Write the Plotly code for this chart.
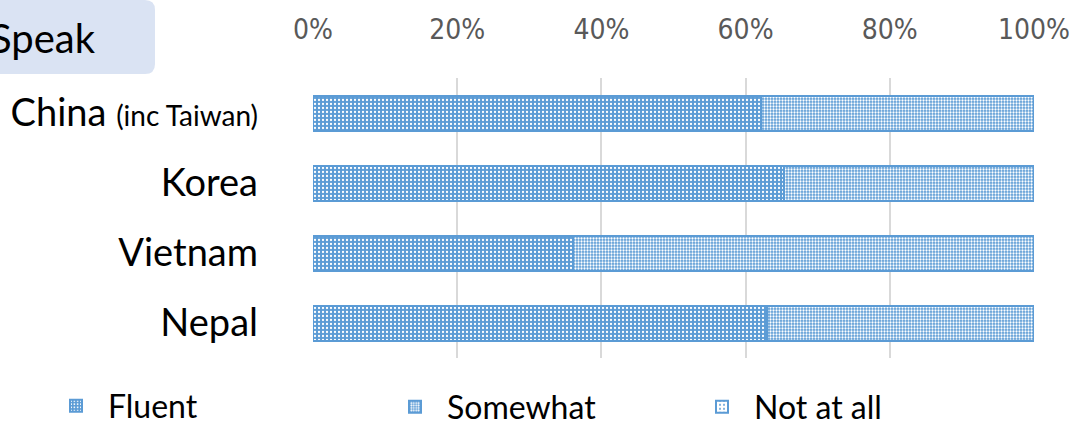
import plotly.graph_objects as go

countries = ["China", "Korea", "Vietnam", "Nepal"]
tick_labels = ["China <span style='font-size:28px'>(inc Taiwan)</span>", "Korea", "Vietnam", "Nepal"]
fluent = [0.622, 0.653, 0.360, 0.629]
somewhat = [0.378, 0.347, 0.640, 0.371]
not_at_all = [0.0, 0.0, 0.0, 0.0]

W, H = 1084, 428
L, R, T, B = 313, 50, 78, 70
PW, PH = W - L - R, H - T - B

BLUE = "#5B9BD5"
FONT = "Lato"

def px_x(p):
    return (p - L) / PW

def px_y(p):
    return (H - B - p) / PH

fig = go.Figure()
fig.add_trace(go.Bar(
    y=countries, x=fluent, orientation="h", name="Fluent", width=0.5,
    marker=dict(color=BLUE, line=dict(color=BLUE, width=2),
                pattern=dict(shape=".", bgcolor=BLUE, fgcolor="white", size=4, solidity=0.25, fillmode="replace")),
    legend="legend", showlegend=True,
))
fig.add_trace(go.Bar(
    y=countries, x=somewhat, orientation="h", name="Somewhat", width=0.5,
    marker=dict(color=BLUE, line=dict(color=BLUE, width=2),
                pattern=dict(shape=".", bgcolor=BLUE, fgcolor="white", size=3, solidity=0.45, fillmode="replace")),
    legend="legend2", showlegend=True,
))
fig.add_trace(go.Bar(
    y=countries, x=not_at_all, orientation="h", name="Not at all", width=0.5,
    marker=dict(color="white", line=dict(color=BLUE, width=2),
                pattern=dict(shape=".", bgcolor="white", fgcolor=BLUE, size=5, solidity=0.2, fillmode="replace")),
    legend="legend3", showlegend=True,
))

# rounded "Speak" box
x0, x1, y0, y1, r = px_x(-20), px_x(155), px_y(0), px_y(74), 10
rx, ry = r / PW, r / PH
path = (f"M {x0},{y0} L {x1-rx},{y0} Q {x1},{y0} {x1},{y0-ry} "
        f"L {x1},{y1+ry} Q {x1},{y1} {x1-rx},{y1} L {x0},{y1} Z")
fig.add_shape(type="path", path=path, xref="paper", yref="paper",
              fillcolor="#DAE3F3", line=dict(width=0), layer="below")
fig.add_annotation(text="Speak", xref="paper", yref="paper", x=px_x(-12), y=px_y(38),
                   xanchor="left", yanchor="middle", showarrow=False,
                   font=dict(family=FONT, size=40, color="black"))

legend_common = dict(orientation="h", xref="container", yref="container", yanchor="middle",
                     font=dict(family=FONT, size=32, color="black"), bgcolor="rgba(0,0,0,0)",
                     itemwidth=54)
fig.update_layout(
    width=W, height=H, barmode="stack", showlegend=True,
    margin=dict(l=L, r=R, t=T, b=B, pad=0),
    plot_bgcolor="white", paper_bgcolor="white",
    font=dict(family=FONT),
    bargap=0.5,
    legend=dict(x=44 / W, y=(H - 406) / H, **legend_common),
    legend2=dict(x=383 / W, y=(H - 407) / H, **legend_common),
    legend3=dict(x=690 / W, y=(H - 407) / H, **legend_common),
    xaxis=dict(side="top", range=[0, 1], tickformat=".0%", dtick=0.2, showgrid=True,
               gridcolor="#D9D9D9", gridwidth=2, zeroline=False, showline=False,
               ticks="", ticklabelstandoff=32,
               tickfont=dict(family="DejaVu Sans Condensed", size=28, color="#595959")),
    yaxis=dict(categoryorder="array", categoryarray=countries[::-1],
               tickvals=countries, ticktext=tick_labels, showgrid=False, zeroline=False,
               showline=False, ticks="", ticklabelstandoff=54,
               tickfont=dict(family=FONT, size=38, color="black")),
)

fig.write_html("out.html")
